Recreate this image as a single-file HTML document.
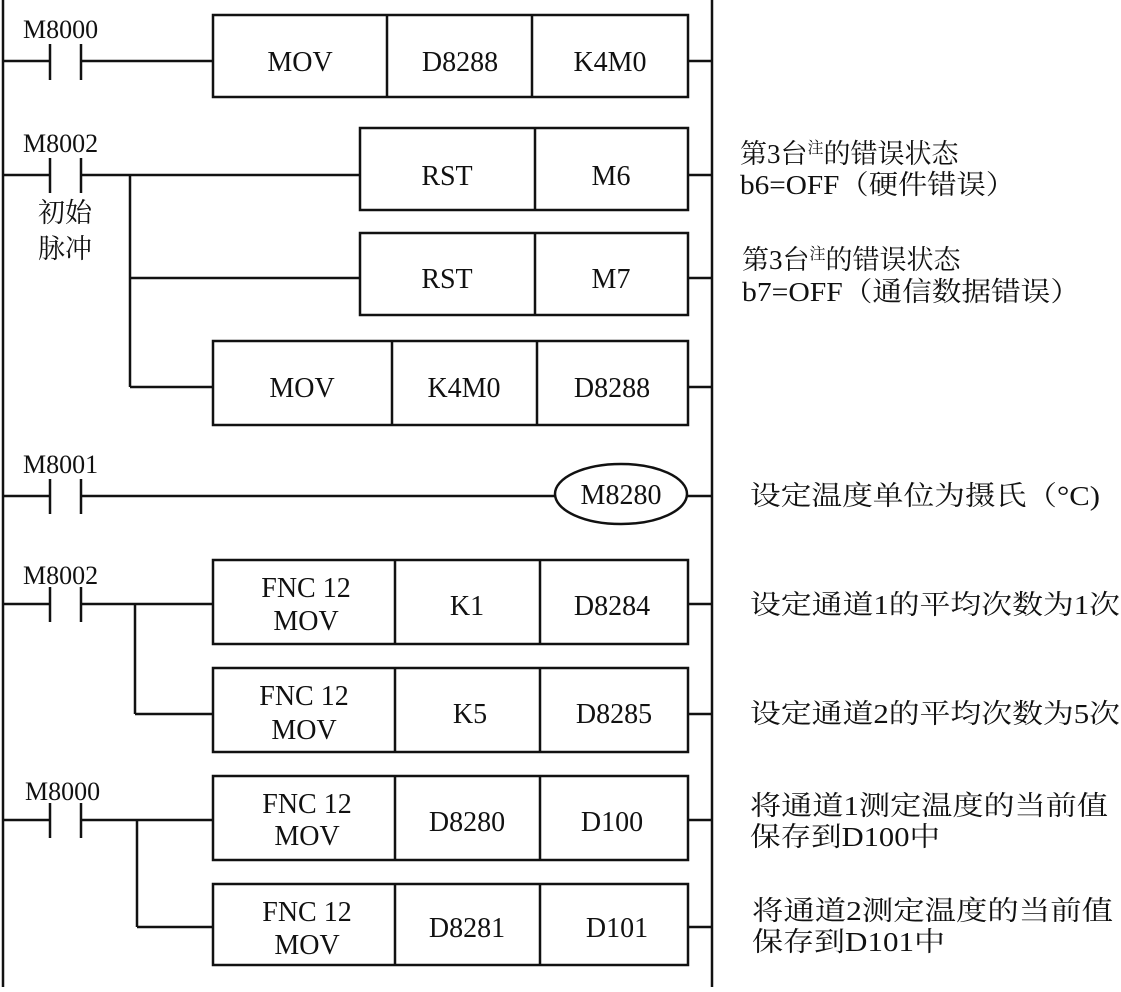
<!DOCTYPE html>
<html><head><meta charset="utf-8"><style>
html,body{margin:0;padding:0;background:#fff;}
svg text{font-family:"Liberation Serif","Noto Serif CJK SC",serif;fill:#111;}
</style></head><body>
<svg width="1121" height="987" viewBox="0 0 1121 987" xmlns="http://www.w3.org/2000/svg">
<g stroke="#111" stroke-width="2.5" fill="none">
<line x1="3" y1="0" x2="3" y2="987"/>
<line x1="712" y1="0" x2="712" y2="987"/>
<line x1="3" y1="61" x2="50" y2="61"/><line x1="50" y1="44" x2="50" y2="80"/><line x1="81" y1="44" x2="81" y2="80"/><line x1="81" y1="61" x2="213" y2="61"/>
<rect x="213" y="15" width="475" height="82"/><line x1="387" y1="15" x2="387" y2="97"/><line x1="532" y1="15" x2="532" y2="97"/>
<line x1="688" y1="61" x2="712" y2="61"/>
<line x1="3" y1="175" x2="50" y2="175"/><line x1="50" y1="158" x2="50" y2="193"/><line x1="81" y1="158" x2="81" y2="193"/><line x1="81" y1="175" x2="360" y2="175"/>
<rect x="360" y="128" width="328" height="82"/><line x1="535" y1="128" x2="535" y2="210"/><line x1="688" y1="175" x2="712" y2="175"/>
<line x1="130" y1="175" x2="130" y2="387"/>
<line x1="130" y1="278" x2="360" y2="278"/>
<rect x="360" y="233" width="328" height="82"/><line x1="535" y1="233" x2="535" y2="315"/><line x1="688" y1="278" x2="712" y2="278"/>
<line x1="130" y1="387" x2="213" y2="387"/>
<rect x="213" y="341" width="475" height="84"/><line x1="392" y1="341" x2="392" y2="425"/><line x1="537" y1="341" x2="537" y2="425"/><line x1="688" y1="387" x2="712" y2="387"/>
<line x1="3" y1="496" x2="50" y2="496"/><line x1="50" y1="479" x2="50" y2="514"/><line x1="81" y1="479" x2="81" y2="514"/><line x1="81" y1="496" x2="555" y2="496"/>
<ellipse cx="621" cy="494" rx="66" ry="30"/><line x1="687" y1="496" x2="712" y2="496"/>
<line x1="3" y1="604" x2="50" y2="604"/><line x1="50" y1="587" x2="50" y2="622"/><line x1="81" y1="587" x2="81" y2="622"/><line x1="81" y1="604" x2="213" y2="604"/>
<rect x="213" y="560" width="475" height="84"/><line x1="395" y1="560" x2="395" y2="644"/><line x1="540" y1="560" x2="540" y2="644"/><line x1="688" y1="604" x2="712" y2="604"/>
<line x1="135" y1="604" x2="135" y2="714"/><line x1="135" y1="714" x2="213" y2="714"/>
<rect x="213" y="668" width="475" height="84"/><line x1="395" y1="668" x2="395" y2="752"/><line x1="540" y1="668" x2="540" y2="752"/><line x1="688" y1="714" x2="712" y2="714"/>
<line x1="3" y1="820" x2="50" y2="820"/><line x1="50" y1="803" x2="50" y2="838"/><line x1="81" y1="803" x2="81" y2="838"/><line x1="81" y1="820" x2="213" y2="820"/>
<rect x="213" y="776" width="475" height="84"/><line x1="395" y1="776" x2="395" y2="860"/><line x1="540" y1="776" x2="540" y2="860"/><line x1="688" y1="820" x2="712" y2="820"/>
<line x1="137" y1="820" x2="137" y2="927"/><line x1="137" y1="927" x2="213" y2="927"/>
<rect x="213" y="884" width="475" height="81"/><line x1="395" y1="884" x2="395" y2="965"/><line x1="540" y1="884" x2="540" y2="965"/><line x1="688" y1="927" x2="712" y2="927"/>
</g>
<g font-size="26">
<text x="23" y="38">M8000</text>
<text x="23" y="152">M8002</text>
<text x="23" y="473">M8001</text>
<text x="23" y="584">M8002</text>
<text x="25" y="800">M8000</text>
</g>
<g font-size="27">
<text x="38" y="222">初始</text>
<text x="38" y="258">脉冲</text>
</g>
<g font-size="28" text-anchor="middle">
<text x="300" y="71">MOV</text><text x="460" y="71">D8288</text><text x="610" y="71">K4M0</text>
<text x="447" y="185">RST</text><text x="611" y="185">M6</text>
<text x="447" y="288">RST</text><text x="611" y="288">M7</text>
<text x="302" y="397">MOV</text><text x="464" y="397">K4M0</text><text x="612" y="397">D8288</text>
<text x="621" y="504">M8280</text>
<text x="306" y="597">FNC 12</text><text x="306" y="630">MOV</text><text x="467" y="615">K1</text><text x="612" y="615">D8284</text>
<text x="304" y="705">FNC  12</text><text x="304" y="739">MOV</text><text x="470" y="723">K5</text><text x="614" y="723">D8285</text>
<text x="307" y="813">FNC  12</text><text x="307" y="845">MOV</text><text x="467" y="831">D8280</text><text x="612" y="831">D100</text>
<text x="307" y="921">FNC  12</text><text x="307" y="954">MOV</text><text x="467" y="937">D8281</text><text x="617" y="937">D101</text>
</g>
<g font-size="27">
<text x="740" y="163">第3台<tspan font-size="16" dy="-10">注</tspan><tspan dy="10">的错误状态</tspan></text>
<text x="740" y="194" textLength="275" lengthAdjust="spacingAndGlyphs">b6=OFF（硬件错误）</text>
<text x="742" y="269">第3台<tspan font-size="16" dy="-10">注</tspan><tspan dy="10">的错误状态</tspan></text>
<text x="742" y="301" textLength="338" lengthAdjust="spacingAndGlyphs">b7=OFF（通信数据错误）</text>
<text x="750" y="505" textLength="350" lengthAdjust="spacingAndGlyphs">设定温度单位为摄氏（°C)</text>
<text x="750" y="614" textLength="370" lengthAdjust="spacingAndGlyphs">设定通道1的平均次数为1次</text>
<text x="750" y="723" textLength="370" lengthAdjust="spacingAndGlyphs">设定通道2的平均次数为5次</text>
<text x="750" y="815" textLength="358" lengthAdjust="spacingAndGlyphs">将通道1测定温度的当前值</text>
<text x="750" y="846" textLength="190" lengthAdjust="spacingAndGlyphs">保存到D100中</text>
<text x="752" y="920" textLength="361" lengthAdjust="spacingAndGlyphs">将通道2测定温度的当前值</text>
<text x="752" y="951" textLength="193" lengthAdjust="spacingAndGlyphs">保存到D101中</text>
</g>
</svg>
</body></html>
